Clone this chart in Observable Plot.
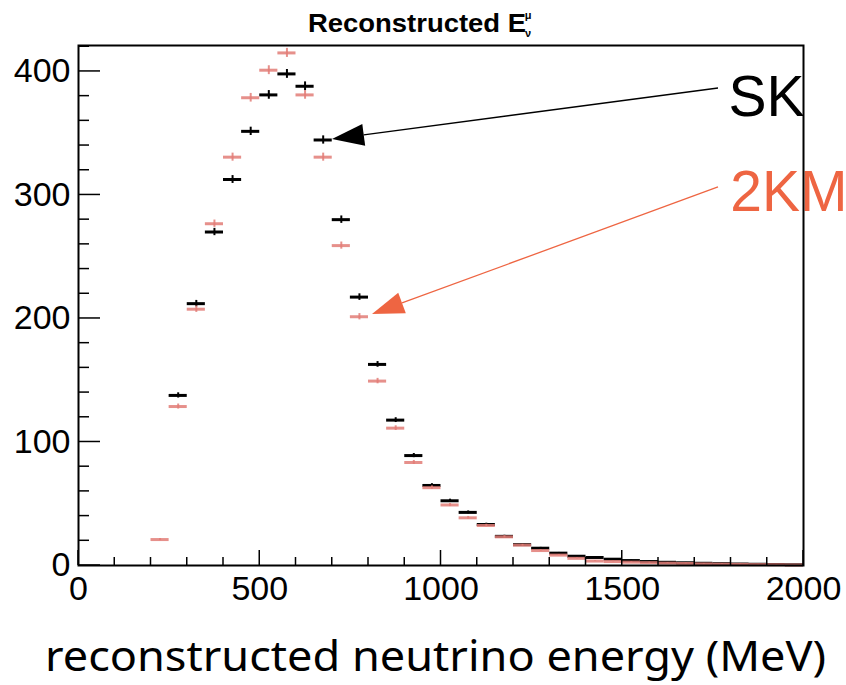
<!DOCTYPE html>
<html><head><meta charset="utf-8">
<script src="https://cdn.jsdelivr.net/npm/d3@7"></script>
<script src="https://cdn.jsdelivr.net/npm/@observablehq/plot@0.6"></script>
<style>body{margin:0;background:#fff} #chart{width:846px;height:685px}</style>
</head><body><div id="chart"></div>
<script>
// Histogram bins (MeV)
const binLow = [200,250,300,350,400,450,500,550,600,650,700,750,800,850,900,950,1000,1050,1100,1150,1200,1250,1300,1350,1400,1450,1500,1550,1600,1650,1700,1750,1800,1850,1900,1950];
const binWidth = 50;
// SK (black)
const skValues = [null,137.7,212,270,312.5,351.5,381,398,388,344.5,280,217.3,162.8,117.7,89,64.8,52.4,43,33.2,23.6,16.9,14,10,7.5,6.5,5.1,4,3.2,2.6,2.2,1.8,1.5,1.2,1,0.8,0.6];
// 2KM (red)
const kmValues = [21,128.7,207.5,276.7,330.6,378.7,401,415,381,330.6,259,201.4,149.3,111.2,83.4,63,49,38.6,32.4,23.2,16.5,12.1,8.4,5.8,3.6,3.2,2.7,2.3,1.9,1.6,1.3,1.1,0.9,0.7,0.6,0.4];

const xMajorTicks = [0,500,1000,1500,2000];
const xMinorTicks = d3.range(0,2001,100).filter(v => v % 500 !== 0);
const yMajorTicks = [0,100,200,300,400];
const yMinorTicks = d3.range(0,421,20).filter(v => v % 100 !== 0);

const labels = [
  {text: "SK", x: 1793, y: 363.6, color: "#000000"},
  {text: "2KM", x: 1798, y: 287.4, color: "#ee6542"}
];
const arrows = [
  {x1: 1765.5, y1: 386.2, x2: 700.7, y2: 344.9, color: "#000000"},
  {x1: 1765.5, y1: 306.1, x2: 811, y2: 203.2, color: "#ee6542"}
];

const rows = binLow.map((lo, i) => ({lo, hi: lo + binWidth, mid: lo + binWidth / 2, sk: skValues[i], km: kmValues[i]}));
const skRows = rows.filter(d => d.sk != null);
const kmRows = rows.filter(d => d.km != null);
const err = v => 0.18 * Math.sqrt(v);

const redColor = "#e27d77";

function decorations(index, scales, values, dims) {
  const {x, y} = scales;
  const g = d3.create("svg:g");
  const t = g.append("g").attr("stroke", "black").attr("stroke-width", 1.5);
  for (const v of xMajorTicks) t.append("line").attr("x1", x(v)).attr("x2", x(v)).attr("y1", y(0)).attr("y2", y(0) - 15);
  for (const v of xMinorTicks) t.append("line").attr("x1", x(v)).attr("x2", x(v)).attr("y1", y(0)).attr("y2", y(0) - 8);
  for (const v of yMajorTicks) t.append("line").attr("x1", x(0)).attr("x2", x(0) + 22).attr("y1", y(v)).attr("y2", y(v));
  for (const v of yMinorTicks) t.append("line").attr("x1", x(0)).attr("x2", x(0) + 11).attr("y1", y(v)).attr("y2", y(v));
  // arrows with filled heads
  const L = 32, W = 22;
  for (const a of arrows) {
    const sx = x(a.x1), sy = y(a.y1), tx = x(a.x2), ty = y(a.y2);
    const dx = tx - sx, dy = ty - sy, len = Math.hypot(dx, dy);
    const ux = dx / len, uy = dy / len;
    const bx = tx - ux * L, by = ty - uy * L;
    g.append("line").attr("x1", sx).attr("y1", sy).attr("x2", bx).attr("y2", by)
      .attr("stroke", a.color).attr("stroke-width", 1.3);
    const px = -uy, py = ux;
    g.append("polygon")
      .attr("points", [[tx, ty], [bx + px * W / 2, by + py * W / 2], [bx - px * W / 2, by - py * W / 2]].map(p => p.join(",")).join(" "))
      .attr("fill", a.color);
  }
  // title
  const title = g.append("g").attr("font-family", "Liberation Sans, Arial, sans-serif").attr("font-weight", "bold").attr("fill", "black");
  title.append("text").attr("x", 526).attr("y", 32).attr("text-anchor", "end").attr("font-size", 25)
    .attr("textLength", 218).attr("lengthAdjust", "spacingAndGlyphs").text("Reconstructed E");
  title.append("text").attr("x", 528).attr("y", 19).attr("font-size", 11).text("μ");
  title.append("text").attr("x", 528).attr("y", 37).attr("font-size", 11).text("ν");
  // x axis title
  g.append("text").attr("x", 435.5).attr("y", 671).attr("text-anchor", "middle")
    .attr("font-family", "Noto Sans, Open Sans, sans-serif").attr("font-size", 42)
    .attr("textLength", 781).attr("lengthAdjust", "spacingAndGlyphs").attr("fill", "black")
    .text("reconstructed neutrino energy (MeV)");
  return g.node();
}

const chart = Plot.plot({
  width: 846,
  height: 685,
  marginLeft: 78,
  marginRight: 43,
  marginTop: 45,
  marginBottom: 120,
  style: {fontFamily: "Liberation Sans, Arial, sans-serif", background: "white", color: "black"},
  x: {domain: [0, 2000]},
  y: {domain: [0, 421]},
  marks: [
    Plot.text(labels, {x: "x", y: "y", text: "text", fill: "color", fontSize: 57, textAnchor: "start", lineAnchor: "bottom"}),
    Plot.ruleY(skRows, {x1: "lo", x2: "hi", y: "sk", stroke: "black", strokeWidth: 3}),
    Plot.ruleX(skRows, {x: "mid", y1: d => d.sk - err(d.sk), y2: d => d.sk + err(d.sk), stroke: "black", strokeWidth: 2}),
    Plot.ruleY(kmRows, {x1: "lo", x2: "hi", y: "km", stroke: redColor, strokeWidth: 3, strokeOpacity: 0.85}),
    Plot.ruleX(kmRows, {x: "mid", y1: d => d.km - err(d.km), y2: d => d.km + err(d.km), stroke: redColor, strokeWidth: 2, strokeOpacity: 0.85}),
    Plot.axisX({ticks: xMajorTicks, tickSize: 0, tickPadding: 10, fontSize: 34, label: null, tickFormat: d => String(d)}),
    Plot.axisY({ticks: yMajorTicks, tickSize: 0, tickPadding: 8, fontSize: 34, label: null, tickFormat: d => String(d)}),
    Plot.frame({stroke: "black", strokeWidth: 2}),
    decorations
  ]
});
document.getElementById("chart").appendChild(chart);
</script>
</body></html>
